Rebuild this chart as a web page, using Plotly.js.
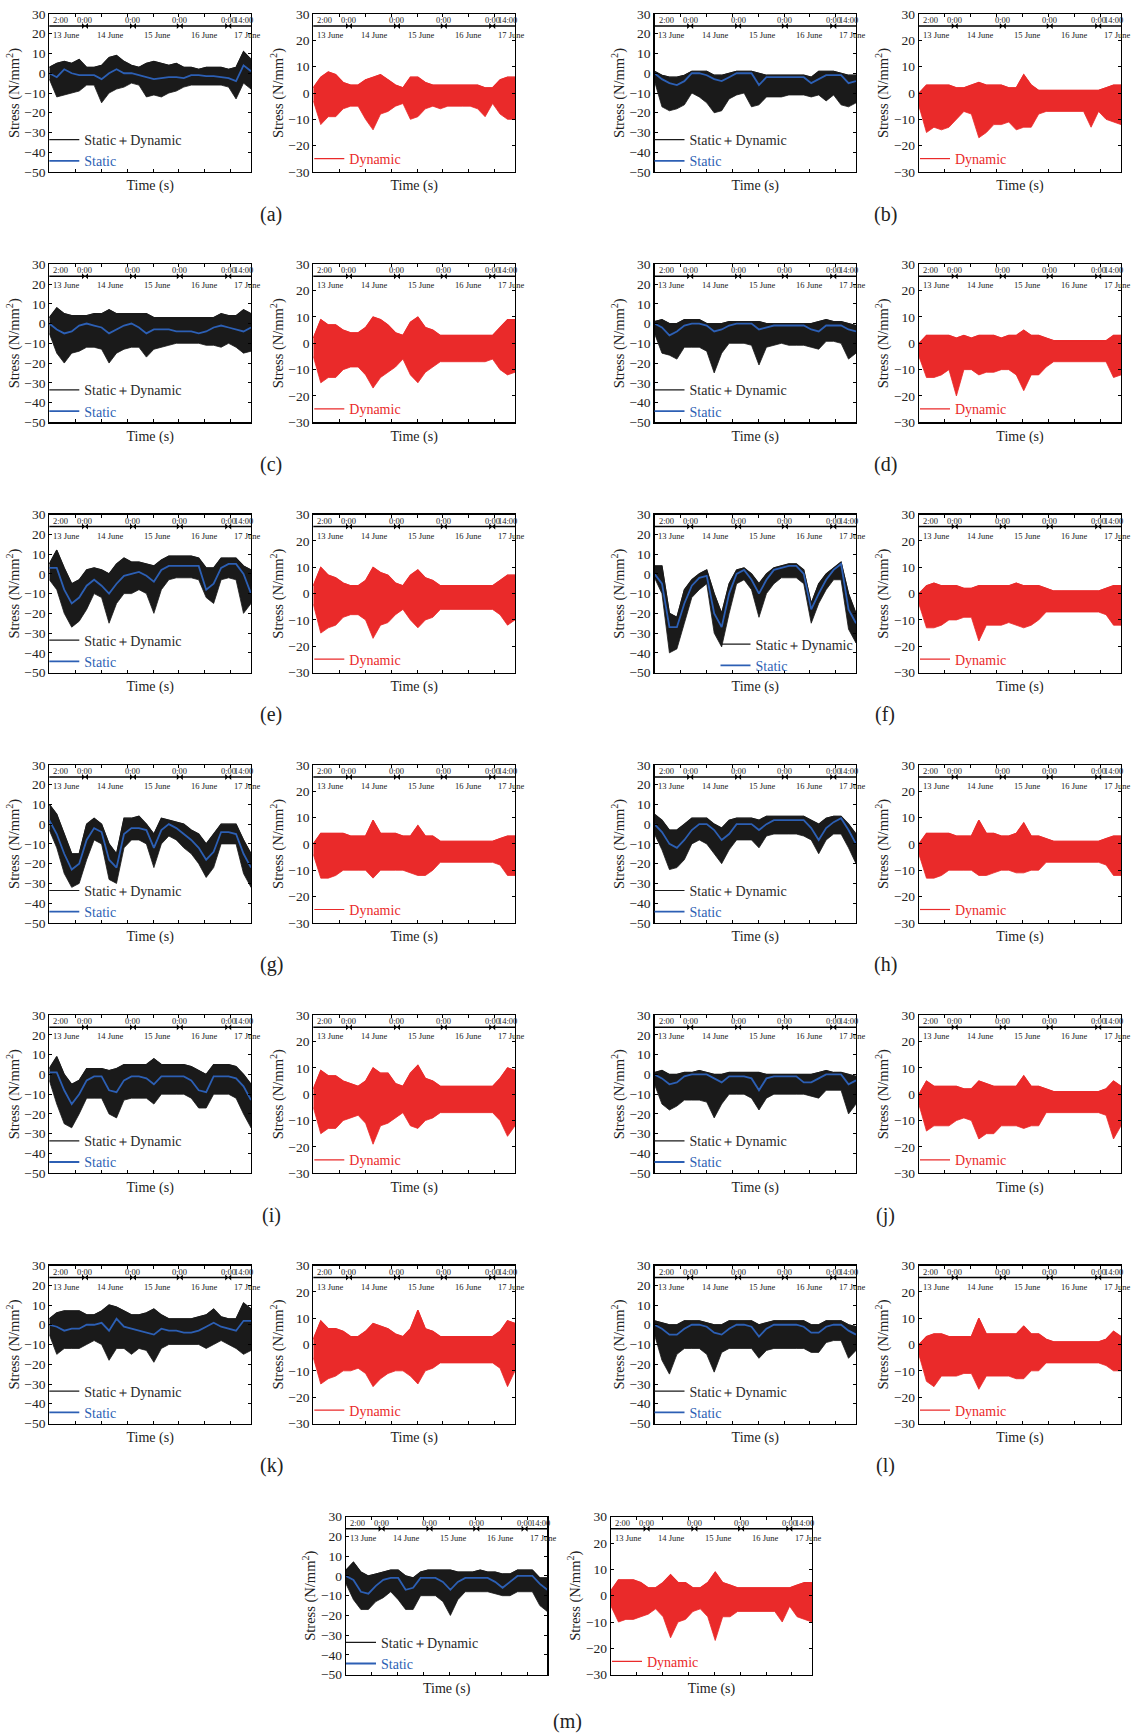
<!DOCTYPE html>
<html><head><meta charset="utf-8">
<script src="https://cdn.plot.ly/plotly-3.0.1.min.js"></script>
<style>html,body{margin:0;padding:0;background:#fff}#chart{width:1132px;height:1736px}</style>
</head><body><div id="chart"></div>
<script>
// ---------------- DATA ----------------
const timeS=[0,14400,28800,43200,57600,72000,86400,100800,115200,129600,144000,158400,172800,187200,201600,216000,230400,244800,259200,273600,288000,302400,316800,331200,345600,360000,374400,388800];
const midnightS=[68800,161300,251600,344900];
const bandTimeStart='2:00', bandTimeMid='0:00', bandTimeEnd='14:00';
const dateLabels=['13 June','14 June','15 June','16 June','17 June'];
const panelLetters=['a','b','c','d','e','f','g','h','i','j','k','l','m'];
const nameSD='Static\uFF0BDynamic', nameST='Static', nameDY='Dynamic';

const a_sdHi=[3,5,6,5,7,3,3,4,8,9,6,4,3,5,6,5,4,5,3,3,2,3,3,3,2,3,11,7];
const a_sdLo=[-3,-12,-11,-10,-9,-6,-6,-15,-10,-8,-7,-5,-6,-12,-11,-12,-10,-9,-7,-6,-6,-6,-6,-6,-7,-13,-5,-8];
const a_st=[0,-2,2,0,-1,-1,-1,-3,0,2,0,0,-1,-2,-3,-2.5,-2,-2,-2.5,-1,-1,-1.5,-1.5,-2,-2.5,-4,4,1];
const a_dyHi=[2,6,8,7,4,3,3,5,6,7,5,3,2,6,6,4,3,3,3,3,3,3,3,2,2,5,6,6];
const a_dyLo=[-3,-12,-9,-9,-6,-5,-5,-10,-14,-8,-7,-5,-4,-10,-9,-6,-5,-6,-5,-5,-5,-5,-6,-9,-4,-8,-10,-10];

const b_sdHi=[1,-1,-2,-2,-1,1,1,1,-1,-1,0,1,1,1,0,-1,-1,-1,-1,-1,-1,-2,1,1,1,0,-1,-1];
const b_sdLo=[-4,-17,-19,-18,-16,-10,-12,-15,-20,-19,-13,-11,-10,-17,-16,-12,-12,-12,-11,-11,-11,-12,-11,-14,-11,-16,-17,-15];
const b_st=[0,-3,-5,-6,-4,0,0,-1,-3,-4,-2,0,0,0,-6,-2,-2,-2,-2,-2,-2,-5,-3,-1,-1,-1,-5,-4];
const b_dyHi=[0,3,3,3,3,2,2,3,4,3,3,3,2,2,7,3,1,1,1,1,1,1,1,1,1,2,3,3];
const b_dyLo=[-5,-15,-13,-14,-13,-10,-7,-8,-17,-15,-12,-12,-11,-14,-13,-13,-8,-7,-7,-7,-7,-7,-7,-13,-7,-10,-11,-12];

const c_sdHi=[3,8,5,4,4,4,5,5,7,5,5,5,5,5,3,3,3,3,3,3,3,3,3,5,4,4,7,5];
const c_sdLo=[-5,-15,-20,-15,-14,-12,-12,-13,-20,-15,-13,-12,-12,-17,-13,-12,-11,-10,-10,-10,-10,-11,-11,-12,-10,-12,-15,-14];
const c_st=[0,-3,-5,-4,-1,0,-1,-2,-5,-3,-1,0,-2,-5,-3,-3,-3,-4,-4,-4,-5,-4,-2,-1,-2,-3,-4,-2];
const c_dyHi=[2,9,7,7,5,4,4,6,10,9,7,4,3,8,10,6,5,3,3,3,3,3,3,3,3,6,9,9];
const c_dyLo=[-5,-15,-13,-13,-10,-9,-9,-12,-17,-13,-11,-9,-6,-12,-15,-11,-9,-7,-7,-7,-7,-7,-7,-7,-6,-10,-12,-11];

const d_sdHi=[1,2,0,0,2,2,2,0,0,0,1,1,1,1,1,0,0,0,0,0,0,0,1,2,1,1,0,-1];
const d_sdLo=[-5,-15,-16,-18,-12,-12,-12,-14,-25,-15,-10,-10,-10,-11,-21,-12,-11,-10,-11,-11,-11,-12,-13,-9,-9,-10,-18,-15];
const d_st=[0,-2,-6,-4,-1,0,0,-1,-4,-3,-1,0,0,0,-3,-2,-1,-1,-1,-1,-1,-3,-4,-1,-1,-1,-3,-4];
const d_dyHi=[0,3,3,3,3,2,3,2,3,3,3,2,3,3,5,3,3,2,1,1,1,1,1,1,1,1,3,3];
const d_dyLo=[-5,-13,-13,-12,-10,-20,-10,-10,-12,-11,-11,-10,-10,-12,-18,-12,-12,-9,-7,-7,-7,-7,-7,-7,-7,-7,-13,-12];

const e_sdHi=[5,12,3,-5,-3,2,3,2,0,5,8,6,6,5,4,7,9,9,9,9,8,3,3,8,8,8,4,2];
const e_sdLo=[-3,-8,-20,-27,-24,-18,-10,-12,-25,-15,-10,-10,-8,-10,-20,-8,-3,-2,-2,-2,-3,-12,-15,-3,-2,-3,-20,-15];
const e_st=[3,3,-8,-15,-12,-6,-3,-6,-10,-5,-1,0,1,-1,-4,2,4,4,4,4,4,-8,-5,3,5,5,0,-10];
const e_dyHi=[3,10,7,6,4,3,3,5,10,8,7,4,3,7,9,6,5,3,3,3,3,3,3,3,3,5,7,7];
const e_dyLo=[-4,-15,-13,-12,-9,-8,-8,-10,-17,-12,-11,-8,-6,-10,-13,-10,-9,-6,-6,-6,-6,-6,-6,-6,-6,-8,-12,-10];

const f_sdHi=[4,4,-20,-22,-8,-3,0,2,-10,-20,-5,2,3,0,-5,0,3,4,5,5,2,-15,-5,0,3,6,-10,-20];
const f_sdLo=[-2,-10,-40,-38,-25,-12,-8,-5,-30,-37,-20,-5,-3,-8,-22,-10,-5,-2,-2,-2,-5,-25,-15,-8,-3,-3,-28,-35];
const f_st=[0,-5,-27,-27,-15,-6,-2,-1,-20,-27,-10,0,2,-3,-10,-3,2,3,4,4,0,-18,-10,-3,2,5,-18,-25];
const f_dyHi=[0,3,4,3,3,3,2,2,3,3,3,3,3,4,3,3,3,2,1,1,1,1,1,1,1,2,3,3];
const f_dyLo=[-4,-13,-13,-12,-10,-10,-9,-9,-18,-12,-12,-12,-11,-12,-13,-12,-10,-7,-7,-7,-7,-7,-7,-7,-7,-8,-12,-12];

const g_sdHi=[10,5,-5,-15,-15,0,3,0,-10,-15,3,3,4,0,-5,3,2,1,0,-3,-5,-10,-5,0,0,0,-8,-15];
const g_sdLo=[-3,-12,-25,-32,-30,-18,-8,-10,-28,-30,-12,-8,-8,-10,-22,-10,-6,-8,-12,-15,-20,-27,-22,-10,-10,-10,-25,-32];
const g_st=[2,-5,-15,-23,-20,-8,-2,-4,-18,-22,-5,-2,-2,-3,-12,-3,0,-2,-5,-8,-12,-18,-14,-4,-4,-5,-15,-22];
const g_dyHi=[0,4,4,4,4,3,3,3,9,4,4,4,3,3,7,3,3,1,1,1,1,1,1,1,1,2,3,3];
const g_dyLo=[-4,-13,-13,-12,-10,-10,-10,-10,-13,-10,-10,-10,-10,-11,-12,-12,-10,-7,-7,-7,-7,-7,-7,-7,-7,-8,-12,-12];

const h_sdHi=[5,2,-3,-3,0,3,3,3,0,-2,2,3,3,3,2,4,4,4,4,4,4,2,0,3,4,4,0,-5];
const h_sdLo=[-5,-13,-23,-22,-18,-10,-8,-10,-15,-20,-13,-8,-8,-8,-12,-6,-5,-5,-5,-5,-6,-8,-15,-8,-5,-5,-12,-20];
const h_st=[0,-4,-10,-12,-8,-3,0,0,-3,-8,-5,0,0,0,-3,0,2,2,2,2,2,-2,-8,-2,1,3,-3,-10];
const h_dyHi=[0,4,4,4,4,3,3,3,9,4,4,3,3,4,8,3,3,2,1,1,1,1,1,1,1,2,3,3];
const h_dyLo=[-4,-13,-13,-12,-10,-10,-10,-10,-12,-12,-11,-10,-10,-11,-11,-10,-10,-7,-7,-7,-7,-7,-7,-7,-7,-8,-12,-12];

const i_sdHi=[3,9,0,-5,-3,3,3,3,2,3,5,5,5,5,8,5,5,5,5,4,2,0,5,5,5,4,0,-5];
const i_sdLo=[-3,-15,-25,-27,-20,-12,-12,-12,-20,-22,-13,-12,-12,-12,-15,-10,-10,-10,-10,-12,-17,-17,-10,-10,-10,-12,-20,-27];
const i_st=[1,1,-8,-15,-10,-3,-1,-1,-8,-9,-3,-1,-1,-2,-5,-1,-1,-1,-1,-3,-8,-9,-1,-1,-1,-2,-6,-13];
const i_dyHi=[2,9,7,7,5,4,3,5,10,8,8,4,3,8,11,6,5,3,3,3,3,3,3,3,3,6,10,9];
const i_dyLo=[-5,-15,-13,-13,-10,-9,-8,-11,-19,-12,-11,-9,-7,-12,-13,-10,-9,-7,-7,-7,-7,-7,-7,-7,-7,-10,-16,-12];

const j_sdHi=[1,2,0,0,1,1,2,1,0,0,1,1,1,1,1,0,0,0,0,0,0,0,1,2,1,1,0,-1];
const j_sdLo=[-5,-15,-18,-16,-13,-13,-13,-14,-22,-15,-10,-10,-10,-12,-18,-12,-10,-10,-10,-10,-10,-11,-12,-8,-8,-8,-20,-15];
const j_st=[0,-2,-5,-4,-1,0,0,0,-2,-4,-1,-1,-1,-2,-8,-2,-1,-1,-1,-1,-4,-4,-2,0,0,0,-5,-3];
const j_dyHi=[0,5,3,3,3,3,2,2,5,4,3,3,3,3,7,3,3,2,1,1,1,1,1,1,1,2,5,3];
const j_dyLo=[-4,-14,-12,-12,-12,-10,-9,-10,-17,-15,-15,-12,-12,-12,-13,-12,-12,-7,-7,-7,-7,-7,-7,-7,-7,-8,-17,-12];

const k_sdHi=[3,6,7,7,7,5,5,7,10,9,7,5,5,6,8,5,3,3,3,3,4,5,8,4,3,3,11,8];
const k_sdLo=[-5,-15,-12,-12,-12,-10,-8,-10,-18,-12,-12,-15,-12,-13,-19,-12,-10,-10,-10,-10,-10,-12,-10,-8,-10,-12,-15,-13];
const k_st=[0,-1,-3,-2,-2,0,0,1,-3,3,-1,-2,-3,-4,-5,-2,-3,-3,-4,-4,-3,-1,1,-1,-2,-3,2,2];
const k_dyHi=[2,9,6,6,5,3,3,5,8,7,6,4,3,6,13,6,5,3,3,3,3,3,3,3,3,5,9,8];
const k_dyLo=[-5,-15,-13,-12,-10,-10,-9,-11,-16,-13,-11,-10,-10,-12,-15,-10,-9,-7,-7,-7,-7,-7,-7,-7,-7,-9,-16,-10];

const l_sdHi=[2,1,0,0,2,2,2,1,0,0,2,2,2,2,0,1,2,2,2,2,2,0,0,2,2,2,0,-1];
const l_sdLo=[-5,-18,-25,-15,-12,-12,-12,-15,-24,-14,-12,-12,-12,-12,-17,-13,-12,-12,-12,-12,-12,-14,-14,-9,-8,-8,-17,-13];
const l_st=[0,-2,-5,-5,-2,0,0,-1,-4,-5,-2,0,0,-1,-6,-2,0,0,0,0,-1,-4,-4,-1,0,0,-3,-5];
const l_dyHi=[0,3,4,4,3,3,3,3,10,4,4,4,4,4,7,4,4,2,1,1,1,1,1,1,1,2,5,3];
const l_dyLo=[-4,-14,-16,-12,-12,-12,-11,-11,-17,-12,-12,-12,-12,-13,-13,-10,-10,-7,-7,-7,-7,-7,-7,-7,-7,-8,-10,-10];

const m_sdHi=[3,7,2,0,1,2,3,3,0,-1,2,3,3,3,3,2,2,2,3,2,2,1,1,3,3,3,-1,-1];
const m_sdLo=[-4,-12,-17,-17,-13,-11,-8,-12,-17,-17,-10,-10,-10,-13,-20,-12,-8,-8,-8,-8,-9,-10,-10,-8,-8,-8,-15,-18];
const m_st=[0,-2,-8,-9,-5,-2,-1,-1,-7,-6,-1,-1,-1,-3,-7,-3,-1,-1,-1,-1,-3,-6,-3,0,0,0,-4,-7];
const m_dyHi=[2,6,6,6,5,3,3,5,8,5,5,3,3,5,9,5,4,3,3,3,3,3,3,3,3,4,5,5];
const m_dyLo=[-4,-10,-9,-9,-8,-7,-5,-8,-16,-10,-9,-6,-5,-8,-17,-8,-8,-6,-6,-6,-6,-6,-6,-10,-4,-8,-9,-10];

const panelData={
 a:{sdHi:a_sdHi,sdLo:a_sdLo,st:a_st,dyHi:a_dyHi,dyLo:a_dyLo},
 b:{sdHi:b_sdHi,sdLo:b_sdLo,st:b_st,dyHi:b_dyHi,dyLo:b_dyLo},
 c:{sdHi:c_sdHi,sdLo:c_sdLo,st:c_st,dyHi:c_dyHi,dyLo:c_dyLo},
 d:{sdHi:d_sdHi,sdLo:d_sdLo,st:d_st,dyHi:d_dyHi,dyLo:d_dyLo},
 e:{sdHi:e_sdHi,sdLo:e_sdLo,st:e_st,dyHi:e_dyHi,dyLo:e_dyLo},
 f:{sdHi:f_sdHi,sdLo:f_sdLo,st:f_st,dyHi:f_dyHi,dyLo:f_dyLo},
 g:{sdHi:g_sdHi,sdLo:g_sdLo,st:g_st,dyHi:g_dyHi,dyLo:g_dyLo},
 h:{sdHi:h_sdHi,sdLo:h_sdLo,st:h_st,dyHi:h_dyHi,dyLo:h_dyLo},
 i:{sdHi:i_sdHi,sdLo:i_sdLo,st:i_st,dyHi:i_dyHi,dyLo:i_dyLo},
 j:{sdHi:j_sdHi,sdLo:j_sdLo,st:j_st,dyHi:j_dyHi,dyLo:j_dyLo},
 k:{sdHi:k_sdHi,sdLo:k_sdLo,st:k_st,dyHi:k_dyHi,dyLo:k_dyLo},
 l:{sdHi:l_sdHi,sdLo:l_sdLo,st:l_st,dyHi:l_dyHi,dyLo:l_dyLo},
 m:{sdHi:m_sdHi,sdLo:m_sdLo,st:m_st,dyHi:m_dyHi,dyLo:m_dyLo}
};

// ---------------- LAYOUT / STYLE ----------------
const W=1132,H=1736,PH=158;
const FONT='"Liberation Serif","Times New Roman",Times,serif';
const C={black:'#1a1a1a',blue:'#2c5fb4',red:'#ea2a2a',text:'#222'};
const BAND=0.924, BANDLBL=0.962, DATELBL=0.866;
const startFrac=0.058,endFrac=0.965;
const dateFrac=[0.083,0.30,0.533,0.765,0.978];

function box(i){
  if(i<12){
    const row=Math.floor(i/2), side=i%2, top=14+250.3*row;
    return side===0?{top,bx:[49.3,251],rx:[313.3,515],cap:[271,top+200]}
                   :{top,bx:[654.5,856],rx:[919,1121],cap:[885,top+200]};
  }
  return {top:1516.7,bx:[346,547.3],rx:[611,812],cap:[567,1721]};
}
const sfx=n=>n===1?'':String(n);
const rev=a=>a.slice().reverse();

const traces=[],shapes=[],annotations=[];
const layout={width:W,height:H,margin:{l:0,r:0,t:0,b:0},paper_bgcolor:'#fff',plot_bgcolor:'#fff',
  showlegend:true,font:{family:FONT,color:C.text},shapes,annotations};

function ann(o){annotations.push(Object.assign({showarrow:false,xanchor:'center',yanchor:'middle'},o));}

function addAxes(n,xd,top,yr){
  layout['xaxis'+sfx(n)]={domain:[xd[0]/W,xd[1]/W],range:[0,388800],anchor:'y'+sfx(n),
    showticklabels:false,ticks:'inside',ticklen:3,tick0:0,dtick:50000,tickcolor:'#000',
    showline:true,mirror:'ticks',linecolor:'#000',linewidth:1.2,showgrid:false,zeroline:false,fixedrange:true,
    title:{text:'Time (s)',font:{family:FONT,size:14,color:C.text},standoff:8}};
  layout['yaxis'+sfx(n)]={domain:[1-(top+PH)/H,1-top/H],range:yr,anchor:'x'+sfx(n),
    ticks:'inside',ticklen:3,tick0:0,dtick:10,tickcolor:'#000',tickfont:{family:FONT,size:13.5,color:C.text},
    showline:true,mirror:'ticks',linecolor:'#000',linewidth:1.2,showgrid:false,zeroline:false,fixedrange:true,
    title:{text:'Stress (N/mm<sup>2</sup>)',font:{family:FONT,size:14.5,color:C.text},standoff:1}};
  const xr='x'+sfx(n), yrf='y'+sfx(n);
  shapes.push({type:'line',xref:xr+' domain',yref:yrf+' domain',x0:0,x1:1,y0:BAND,y1:BAND,line:{color:'#000',width:1.5}});
  const f={family:FONT,size:8.5,color:C.text};
  ann({xref:xr+' domain',yref:yrf+' domain',x:startFrac,y:BANDLBL,text:bandTimeStart,font:f});
  midnightS.forEach(t=>ann({xref:xr,yref:yrf+' domain',x:t,y:BANDLBL,text:bandTimeMid,font:f}));
  ann({xref:xr+' domain',yref:yrf+' domain',x:endFrac,y:BANDLBL,text:bandTimeEnd,font:f});
  dateLabels.forEach((s,j)=>ann({xref:xr+' domain',yref:yrf+' domain',x:dateFrac[j],y:DATELBL,text:s,font:f}));
  // 0:00 markers sitting on the band line
  const bandVal=yr[0]+BAND*(yr[1]-yr[0]);
  traces.push({type:'scatter',mode:'markers',x:midnightS,y:midnightS.map(()=>bandVal),xaxis:xr,yaxis:yrf,
    marker:{symbol:'bowtie',size:6,color:'#000',line:{width:0}},showlegend:false,hoverinfo:'skip',cliponaxis:false});
}

function legendAt(n,xpx,ypx){
  layout['legend'+sfx(n)]={x:xpx/W,y:1-ypx/H,xanchor:'left',yanchor:'top',bgcolor:'rgba(0,0,0,0)',borderwidth:0,
    font:{family:FONT,size:14,color:C.text},itemwidth:30,tracegroupgap:0,traceorder:'normal'};
}

panelLetters.forEach((L,i)=>{
  const d=panelData[L], b=box(i);
  const nB=2*i+1, nR=2*i+2;
  // black (static + dynamic) subplot
  addAxes(nB,b.bx,b.top,[-50,30]);
  const xB='x'+sfx(nB), yB='y'+sfx(nB);
  traces.push({type:'scatter',mode:'lines',x:timeS.concat(rev(timeS)),y:d.sdHi.concat(rev(d.sdLo)),fill:'toself',
    fillcolor:C.black,line:{color:C.black,width:0.8},xaxis:xB,yaxis:yB,showlegend:false,hoverinfo:'skip'});
  traces.push({type:'scatter',mode:'lines',x:timeS,y:d.sdHi,line:{color:C.black,width:1.2},xaxis:xB,yaxis:yB,
    name:'<span style="color:#2a2a2a">'+nameSD+'</span>',legend:'legend'+sfx(nB),hoverinfo:'skip'});
  traces.push({type:'scatter',mode:'lines',x:timeS,y:d.st,line:{color:C.blue,width:1.8},xaxis:xB,yaxis:yB,
    name:'<span style="color:'+C.blue+'">'+nameST+'</span>',legend:'legend'+sfx(nB),hoverinfo:'skip'});
  if(L==='f') legendAt(nB,b.bx[0]+61,b.top+114); else legendAt(nB,b.bx[0]-5,b.top+110);
  // red (dynamic) subplot
  addAxes(nR,b.rx,b.top,[-30,30]);
  const xR='x'+sfx(nR), yR='y'+sfx(nR);
  traces.push({type:'scatter',mode:'lines',x:timeS.concat(rev(timeS)),y:d.dyHi.concat(rev(d.dyLo)),fill:'toself',
    fillcolor:C.red,line:{color:C.red,width:0.8},xaxis:xR,yaxis:yR,showlegend:false,hoverinfo:'skip'});
  traces.push({type:'scatter',mode:'lines',x:timeS,y:d.dyHi,line:{color:C.red,width:1.2},xaxis:xR,yaxis:yR,
    name:'<span style="color:'+C.red+'">'+nameDY+'</span>',legend:'legend'+sfx(nR),hoverinfo:'skip'});
  legendAt(nR,b.rx[0]-4,b.top+129);
  ann({xref:'paper',yref:'paper',x:b.cap[0]/W,y:1-b.cap[1]/H,text:'('+L+')',font:{family:FONT,size:20,color:C.text}});
});

Plotly.newPlot('chart',traces,layout,{displayModeBar:false,staticPlot:true});
</script>
</body></html>
